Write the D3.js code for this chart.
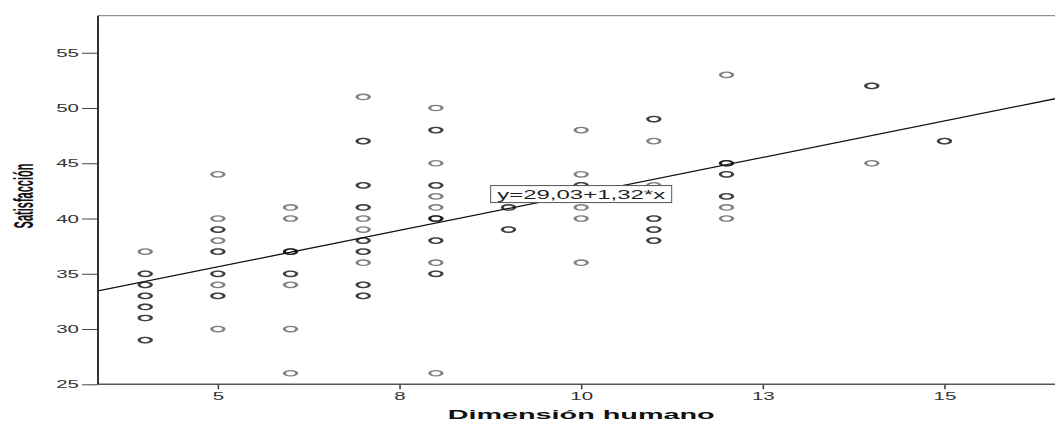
<!DOCTYPE html>
<html>
<head>
<meta charset="utf-8">
<script src="https://cdn.jsdelivr.net/npm/d3@7"></script>
<style>
html, body { margin: 0; padding: 0; background: #fff; overflow: hidden; }
svg { display: block; font-family: "Liberation Sans", Arial, sans-serif; }
</style>
</head>
<body>
<svg width="1055" height="421"></svg>
<script>
const svg = d3.select('svg');
const width = +svg.attr('width');
const height = +svg.attr('height');

// x value of each column of points
const dimHumano = [4, 5, 6, 7, 8, 9, 10, 11, 12, 14, 15];
// y values per column (repeated values = overlapping markers, drawn darker)
const satisfaccion = [
    [37, 35, 35, 34, 34, 33, 33, 32, 32, 31, 31, 29, 29],
    [44, 40, 39, 39, 38, 37, 37, 35, 35, 34, 33, 33, 30],
    [41, 40, 37, 37, 37, 35, 35, 34, 30, 26],
    [51, 47, 47, 43, 43, 41, 41, 40, 39, 38, 38, 37, 37, 36, 34, 34, 33, 33],
    [50, 48, 48, 45, 43, 43, 42, 41, 40, 40, 40, 38, 38, 36, 35, 35, 26],
    [41, 41, 39, 39],
    [48, 44, 43, 43, 41, 40, 36],
    [49, 49, 47, 43, 40, 40, 39, 39, 38, 38],
    [53, 45, 45, 45, 44, 44, 42, 42, 41, 40],
    [52, 52, 45],
    [47, 47]
];
const xTickValues = [5, 7.5, 10, 12.5, 15];
const xTickLabels = ['5', '8', '10', '13', '15'];
const yTickValues = [25, 30, 35, 40, 45, 50, 55];
// fit line
const intercept = 29.03;
const slope = 1.32;
const fitLabel = 'y=29,03+1,32*x';

const xAxisLabel = 'Dimensión humano';
const yAxisLabel = 'Satisfacción';

const points = [];
dimHumano.forEach((x, i) => satisfaccion[i].forEach(y => points.push({x, y})));

const margin = {top: 15.7, right: -1, bottom: 36.7, left: 98};
const innerWidth = width - margin.left - margin.right;
const innerHeight = height - margin.top - margin.bottom;

const xScale = d3.scaleLinear()
    .domain([3.35, 16.535])
    .range([0, innerWidth]);

const yScale = d3.scaleLinear()
    .domain([25, 58.35])
    .range([innerHeight, 0]);

// the original picture is stretched sideways, so the text is too
const sx = 2.05;

const g = svg.append('g')
    .attr('transform', `translate(${margin.left}, ${margin.top})`);

g.append('clipPath').attr('id', 'plot-clip')
    .append('rect')
    .attr('width', innerWidth)
    .attr('height', innerHeight);

// frame
g.append('line')
    .attr('x1', 0).attr('x2', innerWidth)
    .attr('y1', 0).attr('y2', 0)
    .attr('stroke', '#777').attr('stroke-width', 1);

// y axis
const yAxis = d3.axisLeft(yScale)
    .tickValues(yTickValues)
    .tickSize(16)
    .tickPadding(3);

const yAxisG = g.append('g').call(yAxis);
yAxisG.select('.domain').remove();
yAxisG.selectAll('.tick line').attr('stroke', '#444').attr('stroke-width', 1);
yAxisG.selectAll('.tick text')
    .attr('font-family', '"Liberation Sans", Arial, sans-serif')
    .attr('font-size', 10)
    .attr('fill', '#333')
    .attr('dy', '0.36em')
    .attr('x', -19 / sx)
    .attr('transform', `scale(${sx}, 1)`);

// x axis
const xAxis = d3.axisBottom(xScale)
    .tickValues(xTickValues)
    .tickFormat((d, i) => xTickLabels[i])
    .tickSize(5)
    .tickPadding(4);

const xAxisG = g.append('g').call(xAxis)
    .attr('transform', `translate(0, ${innerHeight})`);
xAxisG.select('.domain').remove();
xAxisG.selectAll('.tick line').attr('stroke', '#444').attr('stroke-width', 1.6);
xAxisG.selectAll('.tick text')
    .attr('font-family', '"Liberation Sans", Arial, sans-serif')
    .attr('font-size', 10)
    .attr('fill', '#333')
    .attr('transform', `scale(${sx}, 1)`);

g.append('line')
    .attr('x1', 0).attr('x2', innerWidth)
    .attr('y1', innerHeight).attr('y2', innerHeight)
    .attr('stroke', '#555').attr('stroke-width', 1.5);

g.append('line')
    .attr('x1', 0).attr('x2', 0)
    .attr('y1', 0).attr('y2', innerHeight)
    .attr('stroke', '#333').attr('stroke-width', 2);

// points
g.append('g')
    .selectAll('circle').data(points)
    .join('circle')
        .attr('r', 2.7)
        .attr('transform', d => `translate(${xScale(d.x)}, ${yScale(d.y)}) scale(2.3, 1)`)
        .attr('fill', 'none')
        .attr('stroke', '#000')
        .attr('stroke-opacity', 0.5)
        .attr('stroke-width', 1.3);

// fit line
const [x0, x1] = xScale.domain();
g.append('line')
    .attr('clip-path', 'url(#plot-clip)')
    .attr('x1', xScale(x0)).attr('y1', yScale(intercept + slope * x0))
    .attr('x2', xScale(x1)).attr('y2', yScale(intercept + slope * x1))
    .attr('stroke', '#111')
    .attr('stroke-width', 1.3);

// fit label, sits on the line at x = 10
const labelG = g.append('g')
    .attr('transform', `translate(${xScale(10)}, ${yScale(intercept + slope * 10)})`);
labelG.append('rect')
    .attr('x', -90.5).attr('y', -8.3)
    .attr('width', 181).attr('height', 17)
    .attr('fill', '#fff')
    .attr('stroke', '#555')
    .attr('stroke-width', 1);
labelG.append('text')
    .attr('text-anchor', 'middle')
    .attr('y', 5)
    .attr('font-size', 12.5)
    .attr('fill', '#222')
    .text(fitLabel)
    .attr('textLength', 168)
    .attr('lengthAdjust', 'spacingAndGlyphs');

// axis titles
svg.append('text')
    .attr('x', margin.left + xScale(10))
    .attr('y', 418.5)
    .attr('text-anchor', 'middle')
    .attr('font-weight', 'bold')
    .attr('font-size', 12)
    .attr('fill', '#111')
    .text(xAxisLabel)
    .attr('textLength', 267)
    .attr('lengthAdjust', 'spacingAndGlyphs');

svg.append('text')
    .attr('transform', `translate(33, 196) scale(2.5, 1) rotate(-90)`)
    .attr('text-anchor', 'middle')
    .attr('font-weight', 'bold')
    .attr('font-size', 11)
    .attr('fill', '#111')
    .text(yAxisLabel);
</script>
</body>
</html>
